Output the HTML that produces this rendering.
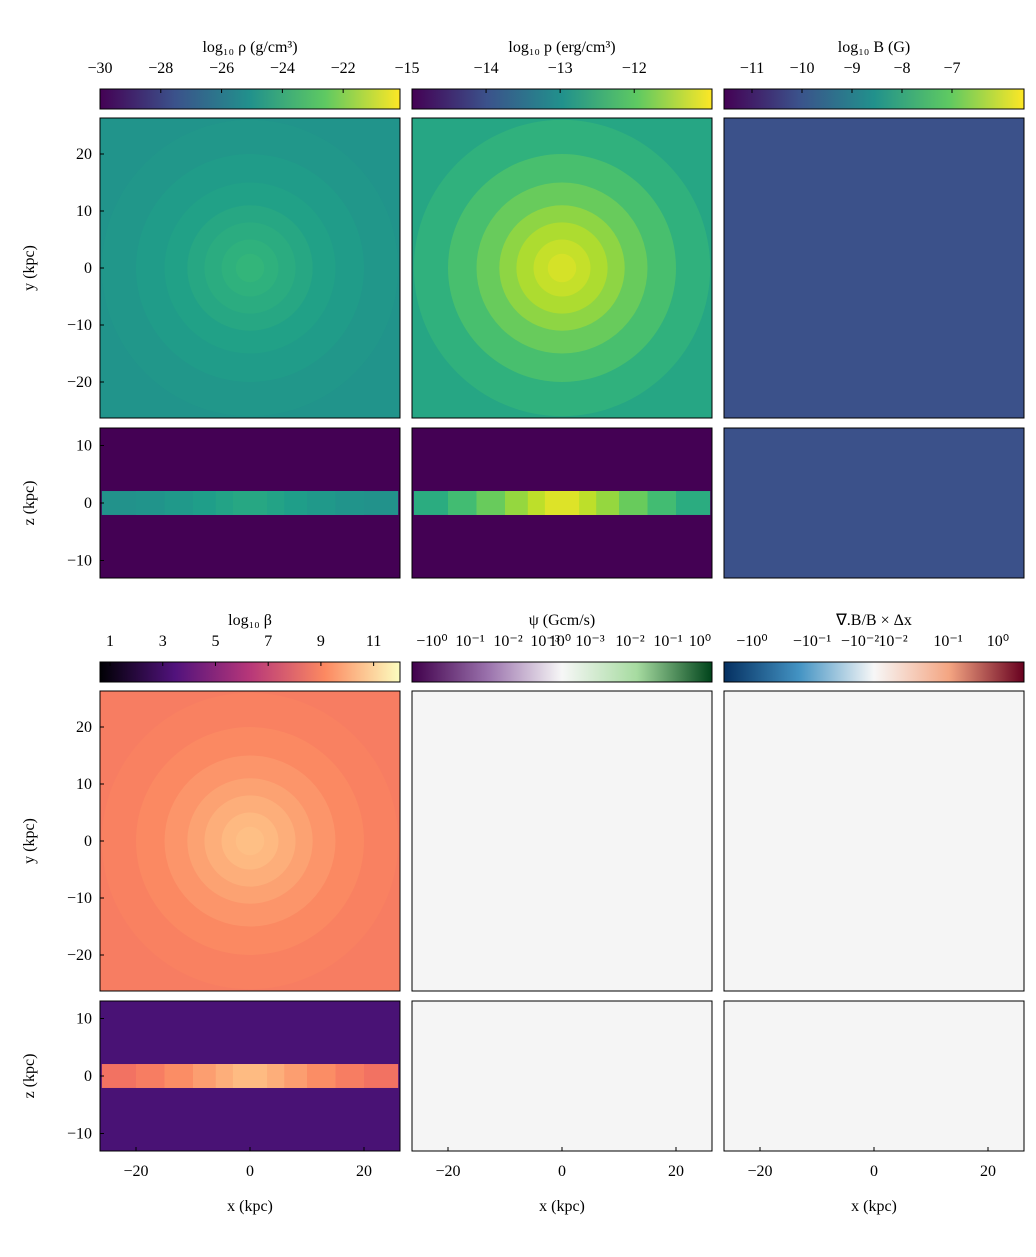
<!DOCTYPE html>
<html><head><meta charset="utf-8"><style>
html,body{margin:0;padding:0;background:#fff}
svg text{font-family:"Liberation Serif",serif;fill:#000}
</style></head><body>
<svg id="fig" width="1036" height="1252" xmlns="http://www.w3.org/2000/svg">
<defs>
<linearGradient id="gVir" x1="0" x2="1"><stop offset="0" stop-color="#440154"/><stop offset=".25" stop-color="#3b528b"/><stop offset=".5" stop-color="#21918c"/><stop offset=".75" stop-color="#5ec962"/><stop offset="1" stop-color="#fde725"/></linearGradient>
<linearGradient id="gMag" x1="0" x2="1"><stop offset="0" stop-color="#000004"/><stop offset=".25" stop-color="#51127c"/><stop offset=".5" stop-color="#b73779"/><stop offset=".75" stop-color="#fc8961"/><stop offset="1" stop-color="#fcfdbf"/></linearGradient>
<linearGradient id="gPRGn" x1="0" x2="1"><stop offset="0" stop-color="#40004b"/><stop offset=".25" stop-color="#9970ab"/><stop offset=".5" stop-color="#f7f7f7"/><stop offset=".75" stop-color="#a6dba0"/><stop offset="1" stop-color="#00441b"/></linearGradient>
<linearGradient id="gRdBu" x1="0" x2="1"><stop offset="0" stop-color="#053061"/><stop offset=".25" stop-color="#4393c3"/><stop offset=".5" stop-color="#f7f7f7"/><stop offset=".75" stop-color="#f4a582"/><stop offset="1" stop-color="#67001f"/></linearGradient>
</defs>
</svg>
<script>
// ---- data ----
const radii = [40, 26, 20, 15, 11, 8, 5, 2.5];          // kpc
const rhoProfile = [-24.9, -24.8, -24.6, -24.4, -24.1, -23.9, -23.7, -23.5];
const presProfile = [-12.6, -12.4, -12.15, -11.9, -11.65, -11.45, -11.3, -11.2];
const betaProfile = [8.9, 9.0, 9.2, 9.5, 9.8, 10.1, 10.35, 10.5];
const bValue = -10.06;
const edgeX = [26, 20, 15, 10, 6, 3];                     // |x| kpc
const rhoEdge = [-25.0, -24.9, -24.7, -24.5, -24.3, -24.1];
const presEdge = [-12.5, -12.2, -11.9, -11.6, -11.35, -11.15];
const betaEdge = [8.6, 8.9, 9.3, 9.7, 10.1, 10.4];
const rhoBg = -30, presBg = -15, betaBg = 3.3;
const diskHalf = 2.1;
const rhoTicks = [-30,-28,-26,-24,-22];
const presTicks = [-15,-14,-13,-12];
const bTicks = [-11,-10,-9,-8,-7];
const betaTicks = [1,3,5,7,9,11];
const xTicks = [-20,0,20], yTicks = [20,10,0,-10,-20], zTicks = [10,0,-10];

const NS="http://www.w3.org/2000/svg", svg=document.getElementById('fig');
function el(t,a,p){const e=document.createElementNS(NS,t);for(const k in a)e.setAttribute(k,a[k]);(p||svg).appendChild(e);return e;}
function txt(s,x,y,a,p){const e=el('text',Object.assign({x:x,y:y,'font-size':16,'text-anchor':'middle'},a||{}),p);e.textContent=s;return e;}
function cmap(stops,t){t=Math.max(0,Math.min(1,t));const n=stops.length-1,i=Math.min(n-1,Math.floor(t*n)),f=t*n-i;
 const a=stops[i],b=stops[i+1];return 'rgb('+a.map((v,k)=>Math.round(v+(b[k]-v)*f)).join(',')+')';}
const VIR=[[68,1,84],[72,40,120],[62,74,137],[49,104,142],[38,130,142],[31,158,137],[53,183,121],[110,206,88],[181,222,43],[253,231,37]];
const MAG=[[0,0,4],[28,16,68],[79,18,123],[129,37,129],[181,54,122],[229,80,100],[251,135,97],[254,194,135],[252,253,191]];
const PX=5.7;
const cols=[{x:100,vmin:-30,vmax:-20.13,st:VIR},{x:412,vmin:-15,vmax:-10.95,st:VIR},{x:724,vmin:-11.56,vmax:-5.56,st:VIR},{x:100,vmin:0.62,vmax:12.0,st:MAG}];
function col(c,v){return cmap(c.st,(v-c.vmin)/(c.vmax-c.vmin));}
let clipN=0;
function panel(x,y,h,name){const id='c'+(clipN++);const cp=el('clipPath',{id:id});el('rect',{x:x,y:y,width:300,height:h},cp);
 const g=el('g',{'clip-path':'url(#'+id+')'});return g;}
function frame(x,y,h,name){const r=el('rect',{x:x,y:y,width:300,height:h,fill:'none',stroke:'#000','stroke-width':1});}
function faceOn(c,x,y,prof,name){const g=panel(x,y,300,name);const cx=x+150,cy=y+150;
 el('rect',{x:x,y:y,width:300,height:300,fill:col(c,prof[0])},g);
 radii.forEach((r,i)=>{const ci=el('circle',{cx:cx,cy:cy,r:r*PX,fill:col(c,prof[i])},g);});
 frame(x,y,300,name);}
function edgeOn(c,x,y,bg,prof,name){const g=panel(x,y,150,name);el('rect',{x:x,y:y,width:300,height:150,fill:col(c,bg)},g);
 const cx=x+150,cy=y+75;
 edgeX.forEach((ex,i)=>{const r=el('rect',{x:cx-ex*PX,y:cy-diskHalf*PX,width:2*ex*PX,height:2*diskHalf*PX,fill:col(c,prof[i])},g);});
 frame(x,y,150,name);}
function flat(x,y,h,fill,name){const r=el('rect',{x:x,y:y,width:300,height:h,fill:fill,stroke:'#000'});}
function cbar(c,x,y,grad,ticks,title,name){const r=el('rect',{x:x,y:y,width:300,height:20,fill:'url(#'+grad+')',stroke:'#000'});
 if(ticks)ticks.forEach(t=>{const px=x+300*(t-c.vmin)/(c.vmax-c.vmin);el('line',{x1:px,x2:px,y1:y,y2:y+4,stroke:'#000'});const l=txt(t<0?'\u2212'+(-t):''+t,px-(px<=x+1&&x>300?5:0),y-16);});
 const tt=txt(title,x+150,y-37);}
function yAxis(x,y0,ticks,scale,center,lab,ly){ticks.forEach(t=>{const py=center-t*scale;el('line',{x1:x,x2:x+4,y1:py,y2:py,stroke:'#000'});const l=txt(t<0?'\u2212'+(-t):''+t,x-8,py+5,{'text-anchor':'end'});});
 const a=txt(lab,0,0,{transform:'translate(34,'+ly+') rotate(-90)'});}
function xAxis(x,yb){xTicks.forEach(t=>{const px=x+150+t*PX;el('line',{x1:px,x2:px,y1:yb,y2:yb-4,stroke:'#000'});const l=txt(t<0?'\u2212'+(-t):''+t,px,yb+25);});
 const a=txt('x (kpc)',x+150,yb+60);}

// top row
cbar(cols[0],100,89,'gVir',rhoTicks,'log\u2081\u2080 \u03c1 (g/cm\u00b3)','density-colorbar');
el('line',{x1:400,x2:400,y1:89,y2:93,stroke:'#000'});
cbar(cols[1],412,89,'gVir',presTicks,'log\u2081\u2080 p (erg/cm\u00b3)','pressure-colorbar');
cbar(cols[2],724,89,'gVir',bTicks,'log\u2081\u2080 B (G)','bfield-colorbar');
faceOn(cols[0],100,118,rhoProfile,'density-face-on');
faceOn(cols[1],412,118,presProfile,'pressure-face-on');
flat(724,118,300,col(cols[2],bValue),'bfield-face-on');
edgeOn(cols[0],100,428,rhoBg,rhoEdge,'density-edge-on');
edgeOn(cols[1],412,428,presBg,presEdge,'pressure-edge-on');
flat(724,428,150,col(cols[2],bValue),'bfield-edge-on');
yAxis(100,118,yTicks,PX,268,'y (kpc)',268);
yAxis(100,428,zTicks,5.75,503,'z (kpc)',503);
// bottom row
cbar(cols[3],100,662,'gMag',betaTicks,'log\u2081\u2080 \u03b2','beta-colorbar');
cbar({vmin:0,vmax:1},412,662,'gPRGn',null,'\u03c8 (Gcm/s)','psi-colorbar');
cbar({vmin:0,vmax:1},724,662,'gRdBu',null,'\u2207.B/B \u00d7 \u0394x','divb-colorbar');
[['\u221210\u2070',432],['10\u207b\u00b9',470],['10\u207b\u00b2',508],['10\u207b\u00b3',545],['10\u2070',560],['10\u207b\u00b3',590],['10\u207b\u00b2',630],['10\u207b\u00b9',668],['10\u2070',700],
 ['\u221210\u2070',752],['\u221210\u207b\u00b9',812],['\u221210\u207b\u00b2',860],['10\u207b\u00b2',893],['10\u207b\u00b9',948],['10\u2070',998]].forEach(a=>{const l=txt(a[0],a[1],646);});
faceOn(cols[3],100,691,betaProfile,'beta-face-on');
flat(412,691,300,'#f5f5f5','psi-face-on');
flat(724,691,300,'#f5f5f5','divb-face-on');
edgeOn(cols[3],100,1001,betaBg,betaEdge,'beta-edge-on');
flat(412,1001,150,'#f5f5f5','psi-edge-on');
flat(724,1001,150,'#f5f5f5','divb-edge-on');
yAxis(100,691,yTicks,PX,841,'y (kpc)',841);
yAxis(100,1001,zTicks,5.75,1076,'z (kpc)',1076);
xAxis(100,1151);xAxis(412,1151);xAxis(724,1151);
</script>
</body></html>
